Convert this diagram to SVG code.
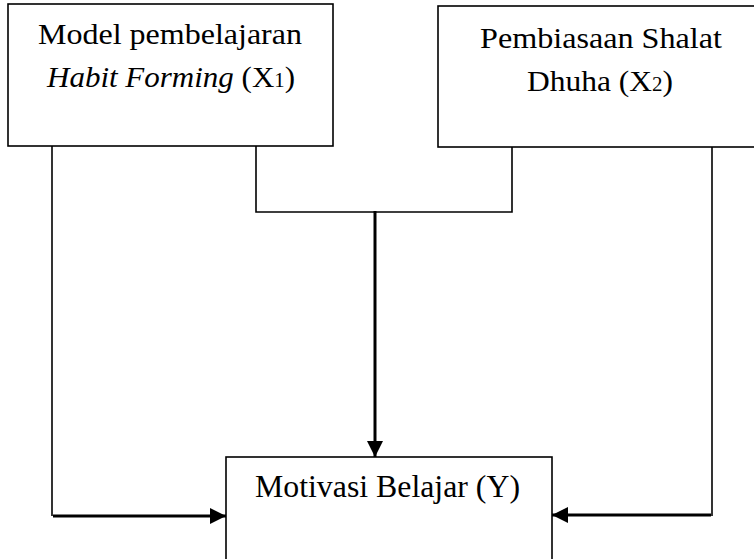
<svg xmlns="http://www.w3.org/2000/svg" width="754" height="559" viewBox="0 0 754 559">
<defs>
<style>
.box{fill:#fff;stroke:#000;stroke-width:1.6}
.t{font-family:"Times New Roman","Liberation Serif",Tinos,serif;fill:#000}
.thin{fill:none;stroke:#000;stroke-width:1.6}
.thick{fill:none;stroke:#000;stroke-width:3}
</style>
<marker id="ah" markerUnits="userSpaceOnUse" markerWidth="16" markerHeight="16" viewBox="0 0 16 16" refX="16" refY="8" orient="auto">
<path d="M0,0 L16,8 L0,16 Z" fill="#000"/>
</marker>
</defs>
<rect width="754" height="559" fill="#fff"/>
<g id="connectors">
<polyline class="thin" points="256,146 256,212 512,212 512,147"/>
<line class="thick" x1="375" y1="211" x2="375" y2="457" marker-end="url(#ah)"/>
<line class="thin" x1="52" y1="146" x2="52" y2="516"/>
<line class="thick" x1="53" y1="516" x2="226" y2="516" marker-end="url(#ah)"/>
<line class="thin" x1="712" y1="147" x2="712" y2="516"/>
<line class="thick" x1="711" y1="515" x2="552" y2="515" marker-end="url(#ah)"/>
</g>
<g id="node-x1">
<rect class="box" x="8" y="4" width="325" height="142"/>
<text class="t" x="38" y="44" font-size="30" textLength="264" lengthAdjust="spacingAndGlyphs">Model pembelajaran</text>
<text class="t" x="47" y="87" font-size="30" textLength="248" lengthAdjust="spacingAndGlyphs"><tspan font-style="italic">Habit Forming</tspan> (X<tspan font-size="20">1</tspan>)</text>
</g>
<g id="node-x2">
<rect class="box" x="438" y="6" width="320" height="141"/>
<text class="t" x="480" y="48" font-size="30" textLength="242" lengthAdjust="spacingAndGlyphs">Pembiasaan Shalat</text>
<text class="t" x="527" y="91" font-size="30" textLength="146" lengthAdjust="spacingAndGlyphs">Dhuha (X<tspan font-size="20">2</tspan>)</text>
</g>
<g id="node-y">
<rect class="box" x="226" y="457" width="326" height="110"/>
<text class="t" x="255" y="497" font-size="31" textLength="265" lengthAdjust="spacingAndGlyphs">Motivasi Belajar (Y)</text>
</g>
</svg>
